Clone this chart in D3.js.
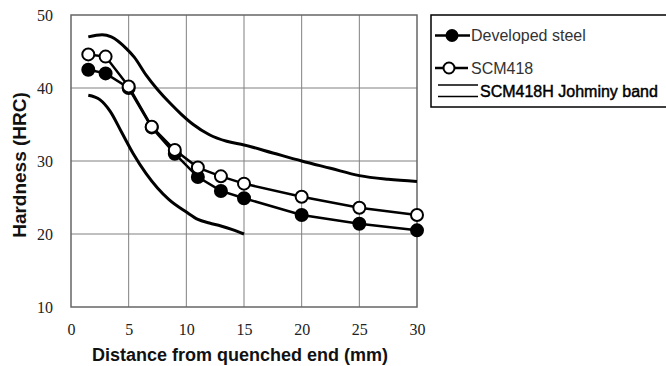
<!DOCTYPE html>
<html>
<head>
<meta charset="utf-8">
<script src="https://cdn.jsdelivr.net/npm/d3@7"></script>
<style>
  body { margin: 0; background: #fff; }
  svg { display: block; }
</style>
</head>
<body>
<div id="chart"></div>
<script>
// data
const distance = [1.5, 3, 5, 7, 9, 11, 13, 15, 20, 25, 30];
const developed = [42.5, 42.0, 40.0, 34.6, 31.0, 27.8, 25.9, 24.9, 22.6, 21.4, 20.5];
const scm418 = [44.6, 44.3, 40.2, 34.7, 31.5, 29.1, 27.9, 26.9, 25.1, 23.6, 22.6];

const bandUpperX = [1.5, 2.7, 3.5, 4.8, 5.5, 6.5, 7.5, 8.6, 9.5, 10.6, 12, 13.5, 15, 17.5, 20, 22.5, 25, 27.5, 30];
const bandUpperY = [47.0, 47.3, 47.0, 45.4, 44.2, 41.8, 39.8, 37.9, 36.5, 35.0, 33.6, 32.7, 32.2, 31.1, 30.0, 29.0, 28.0, 27.5, 27.2];
const bandLowerX = [1.5, 2.5, 3.4, 4.4, 5.4, 6.5, 7.5, 8.5, 10, 11, 12, 13, 14, 15];
const bandLowerY = [39.0, 38.4, 36.8, 33.9, 31.0, 28.3, 26.3, 24.7, 23.0, 22.0, 21.5, 21.1, 20.6, 20.0];

const xTicks = [0, 5, 10, 15, 20, 25, 30];
const yTicks = [10, 20, 30, 40, 50];

const margin = { top: 15, right: 249, bottom: 59, left: 71 };
const W = 666, H = 366;
const width = W - margin.left - margin.right;
const height = H - margin.top - margin.bottom;

const svg = d3.select("#chart")
  .append("svg")
  .attr("width", W)
  .attr("height", H);

const g = svg.append("g")
  .attr("transform", "translate(" + margin.left + "," + margin.top + ")");

const x = d3.scaleLinear().domain([0, 30]).range([0, width]);
const y = d3.scaleLinear().domain([10, 50]).range([height, 0]);

// grid
g.selectAll(".vgrid")
  .data(xTicks.slice(1, -1))
  .join("line")
  .attr("x1", d => x(d)).attr("x2", d => x(d))
  .attr("y1", 0).attr("y2", height)
  .attr("stroke", "#808080").attr("stroke-width", 1);
g.selectAll(".hgrid")
  .data(yTicks.slice(1, -1))
  .join("line")
  .attr("y1", d => y(d)).attr("y2", d => y(d))
  .attr("x1", 0).attr("x2", width)
  .attr("stroke", "#808080").attr("stroke-width", 1);

g.append("rect")
  .attr("width", width).attr("height", height)
  .attr("fill", "none").attr("stroke", "#666").attr("stroke-width", 1.5);

// axes
const xAxis = d3.axisBottom(x).tickValues(xTicks).tickSize(0).tickPadding(17);
const xAxisElement = g.append("g")
  .attr("transform", "translate(0," + height + ")")
  .call(xAxis);
xAxisElement.select(".domain").remove();
xAxisElement.selectAll("text")
  .attr("font-family", "'Liberation Serif', 'Times New Roman', serif")
  .attr("font-size", 16)
  .attr("fill", "#222");

const yAxis = d3.axisLeft(y).tickValues(yTicks).tickSize(0).tickPadding(18);
const yAxisElement = g.append("g").call(yAxis);
yAxisElement.select(".domain").remove();
yAxisElement.selectAll("text")
  .attr("font-family", "'Liberation Serif', 'Times New Roman', serif")
  .attr("font-size", 16)
  .attr("fill", "#222");

// axis titles
svg.append("text")
  .attr("x", 240).attr("y", 361)
  .attr("text-anchor", "middle")
  .attr("font-family", "'Liberation Sans', Arial, sans-serif")
  .attr("font-weight", "bold")
  .attr("font-size", 18)
  .attr("fill", "#111")
  .text("Distance from quenched end (mm)");

svg.append("text")
  .attr("transform", "translate(26,165) rotate(-90)")
  .attr("text-anchor", "middle")
  .attr("font-family", "'Liberation Sans', Arial, sans-serif")
  .attr("font-weight", "bold")
  .attr("font-size", 19)
  .attr("fill", "#111")
  .text("Hardness (HRC)");

// band curves
const band = d3.line().x(d => x(d[0])).y(d => y(d[1])).curve(d3.curveMonotoneX);
[[bandUpperX, bandUpperY], [bandLowerX, bandLowerY]].forEach(([bx, by]) => {
  g.append("path")
    .datum(bx.map((v, i) => [v, by[i]]))
    .attr("d", band)
    .attr("fill", "none")
    .attr("stroke", "#000")
    .attr("stroke-width", 3);
});

// series
const line = d3.line().x(d => x(d[0])).y(d => y(d[1]));
const series = [
  { values: developed, fill: "#000" },
  { values: scm418, fill: "#fff" }
];
series.forEach(s => {
  const pts = distance.map((d, i) => [d, s.values[i]]);
  g.append("path")
    .datum(pts)
    .attr("d", line)
    .attr("fill", "none")
    .attr("stroke", "#000")
    .attr("stroke-width", 2.5);
  g.selectAll(null)
    .data(pts)
    .join("circle")
    .attr("cx", d => x(d[0]))
    .attr("cy", d => y(d[1]))
    .attr("r", 6)
    .attr("fill", s.fill)
    .attr("stroke", "#000")
    .attr("stroke-width", 2);
});

// legend
const legend = svg.append("g");
legend.append("rect")
  .attr("x", 431).attr("y", 15)
  .attr("width", 240).attr("height", 92)
  .attr("fill", "#fff").attr("stroke", "#000").attr("stroke-width", 1.5);

const legendItems = [
  { label: "Developed steel", fill: "#000", cy: 35.5, x1: 435, x2: 470, cx: 452 },
  { label: "SCM418", fill: "#fff", cy: 68, x1: 435, x2: 468, cx: 449 }
];
legendItems.forEach(it => {
  legend.append("line")
    .attr("x1", it.x1).attr("x2", it.x2)
    .attr("y1", it.cy).attr("y2", it.cy)
    .attr("stroke", "#000").attr("stroke-width", 2.5);
  legend.append("circle")
    .attr("cx", it.cx).attr("cy", it.cy).attr("r", 5.5)
    .attr("fill", it.fill).attr("stroke", "#000").attr("stroke-width", 2);
  legend.append("text")
    .attr("x", 471).attr("y", it.cy)
    .attr("dy", "0.35em")
    .attr("font-family", "'Liberation Sans', Arial, sans-serif")
    .attr("font-size", 16)
    .attr("fill", "#333")
    .text(it.label);
});
[85, 96.5].forEach(ly => {
  legend.append("line")
    .attr("x1", 438).attr("x2", 478)
    .attr("y1", ly).attr("y2", ly)
    .attr("stroke", "#000").attr("stroke-width", 1.5);
});
legend.append("text")
  .attr("x", 480).attr("y", 91)
  .attr("dy", "0.35em")
  .attr("font-family", "'Liberation Sans', Arial, sans-serif")
  .attr("font-size", 16)
  .attr("fill", "#000")
  .attr("stroke", "#000")
  .attr("stroke-width", 0.45)
  .text("SCM418H Johminy band");
</script>
</body>
</html>
